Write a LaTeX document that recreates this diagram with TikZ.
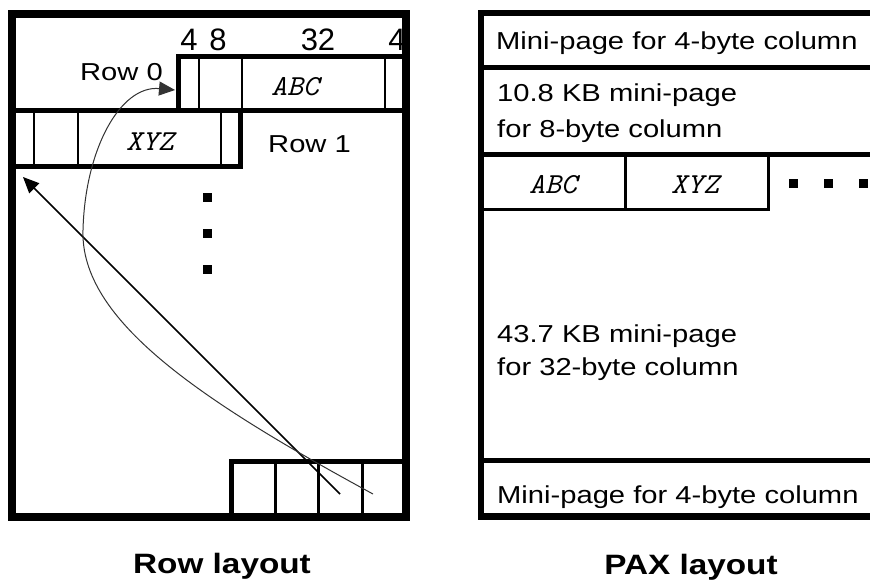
\documentclass[tikz,border=0pt]{standalone}
\usepackage{fontspec}
\setmainfont{Liberation Sans}[FakeStretch=1.19]
\newfontfamily\digitfont{Liberation Sans}
\newfontfamily\cellfont{Latin Modern Mono}[FakeStretch=1.05]
\usetikzlibrary{arrows.meta}

\tikzset{
  outerbox/.style={line width=8pt},
  paxbox/.style={line width=6.5pt},
  rowedge/.style={line width=5pt},
  fieldsep/.style={line width=1.5pt},
  slotsep/.style={line width=3pt},
  txt/.style={inner sep=0pt, anchor=base west, font=\fontsize{24.5}{30}\selectfont},
  widthlbl/.style={inner sep=0pt, anchor=base, font=\digitfont\fontsize{31}{36}\selectfont},
  val/.style={inner sep=0pt, anchor=base, font=\cellfont\itshape\fontsize{29}{32}\selectfont},
  caption/.style={inner sep=0pt, anchor=base, font=\bfseries\fontsize{28}{34}\selectfont},
  dotsq/.style={fill=black, minimum size=9pt, inner sep=0pt},
  ptr/.style={-{Triangle[length=16pt,width=14pt]}},
}

\begin{document}
\begin{tikzpicture}[x=1pt,y=-1pt]
  \clip (0,0) rectangle (870,581);
  \fill[white] (0,0) rectangle (870,581);

  % --- row layout ---
  \node[widthlbl] (w4a) at (189,50) {4};
  \node[widthlbl] (w8) at (218,50) {8};
  \node[widthlbl] (w32) at (318,50) {32};
  \node[widthlbl] (w4b) at (397,50) {4};

  \draw[outerbox] (12,14) rectangle (406,517);

  % row 0 and row 1
  \draw[rowedge] (178,110.5) -- (178,56) -- (406,56);
  \draw[rowedge] (12,110.5) -- (406,110.5);
  \draw[rowedge] (240,110.5) -- (240,166) -- (12,166);
  \foreach \x in {199,242,385}
    \draw[fieldsep] (\x,58) -- (\x,108);
  \foreach \x in {34,78,221}
    \draw[fieldsep] (\x,113) -- (\x,164);

  \node[txt, anchor=base east] (row0) at (163,80) {Row 0};
  \node[txt] (row1) at (268,152) {Row 1};
  \node[val] (abc) at (295,95) {ABC};
  \node[val] (xyz) at (150,150) {XYZ};

  \node[dotsq] (rd1) at (207,197) {};
  \node[dotsq] (rd2) at (207,233) {};
  \node[dotsq] (rd3) at (207,269) {};

  % slot array
  \draw[rowedge] (231,517) -- (231,461.5) -- (406,461.5);
  \foreach \x in {275,318,362}
    \draw[slotsep] (\x,463) -- (\x,515);

  \coordinate (slot3) at (340,494);
  \coordinate (slot4) at (373,494);
  \coordinate (row1start) at (23,177);
  \coordinate (row0start) at (175,90);
  \draw[ptr, line width=1.5pt] (slot3) -- (row1start);
  \draw[ptr, line width=1pt, black!80] (slot4) .. controls (200,400) and (80,320) .. (83,230)
    .. controls (85,150) and (120,85) .. (row0start);

  \node[caption] (rowcap) at (222,573) {Row layout};

  % --- PAX layout ---
  \draw[paxbox] (481,13) rectangle (900,516.5);
  \draw[rowedge] (481,67) -- (900,67);
  \draw[rowedge] (481,154) -- (900,154);
  \draw[rowedge] (481,460.5) -- (900,460.5);
  \draw[slotsep] (483,209) -- (768,209) -- (768,155);
  \draw[slotsep] (625,155) -- (625,208);

  \node[txt] (mp4a) at (496,49) {Mini-page for 4-byte column};
  \node[txt] (mp8a) at (497,101) {10.8 KB mini-page};
  \node[txt] (mp8b) at (497,137) {for 8-byte column};
  \node[val] (pabc) at (553,193) {ABC};
  \node[val] (pxyz) at (695,193) {XYZ};
  \node[dotsq] (pd1) at (793,183) {};
  \node[dotsq] (pd2) at (828,183) {};
  \node[dotsq] (pd3) at (863,183) {};
  \node[txt] (mp32a) at (497,342) {43.7 KB mini-page};
  \node[txt] (mp32b) at (497,375) {for 32-byte column};
  \node[txt] (mp4b) at (497,503) {Mini-page for 4-byte column};

  \node[caption] (paxcap) at (691,574) {PAX layout};
\end{tikzpicture}
\end{document}
